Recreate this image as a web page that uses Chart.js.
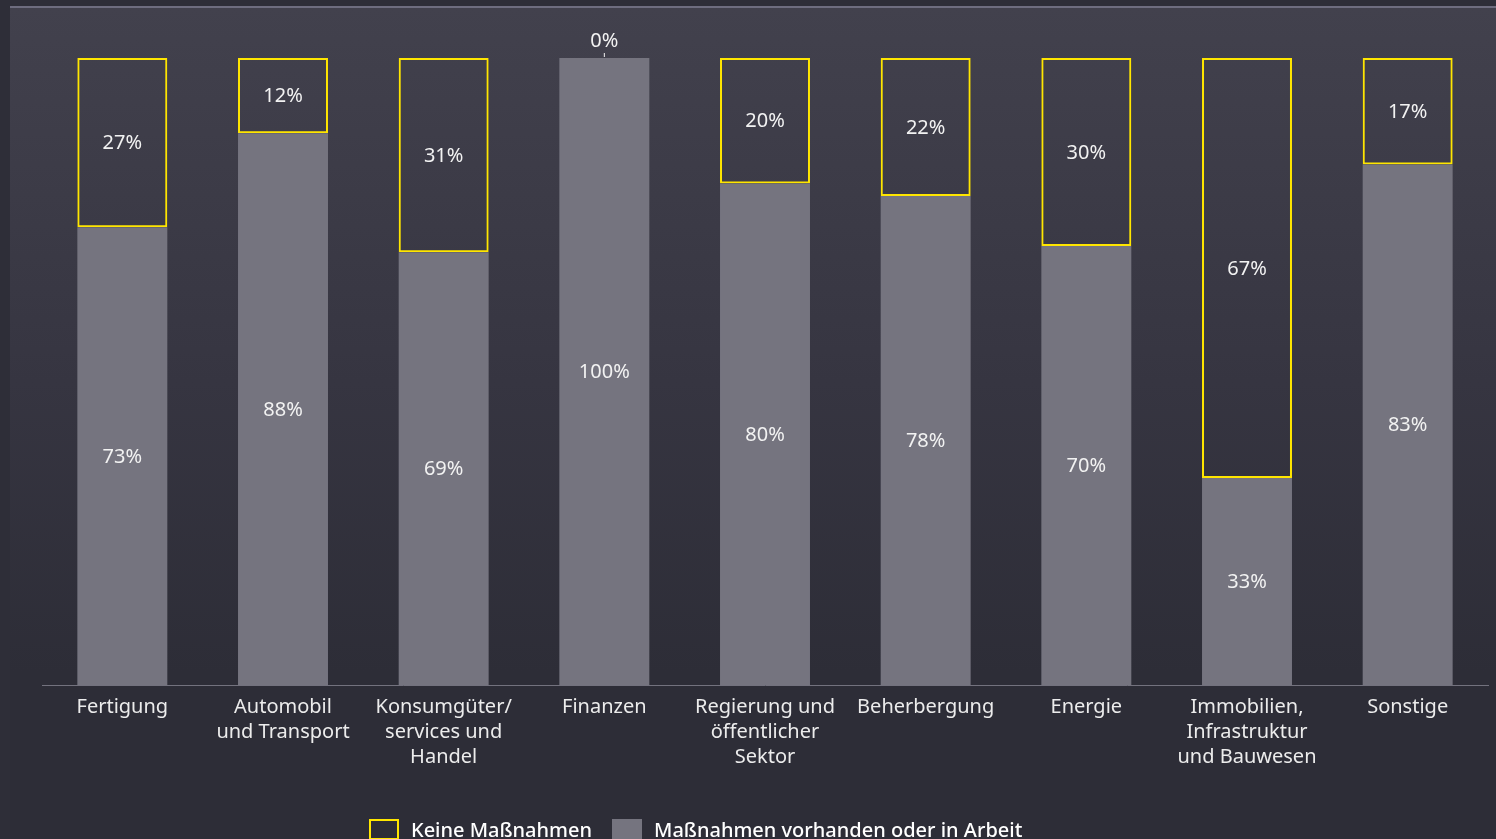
<!DOCTYPE html>
<html lang="de">
<head>
<meta charset="utf-8">
<title>Maßnahmen nach Branche</title>
<script src="https://cdn.jsdelivr.net/npm/chart.js@4/dist/chart.umd.min.js"></script>
<style>
  html, body { margin: 0; padding: 0; }
  body {
    width: 1496px; height: 839px; overflow: hidden;
    background: #2e2e38;
    font-family: "Noto Sans", sans-serif;
    position: relative;
  }
  #panel {
    position: absolute; left: 10px; top: 6px; right: 0; bottom: 0;
    border-top: 2px solid #6e6d7f;
    background: linear-gradient(#42414d 0%, #363541 45%, #2d2d37 80%, #2d2d37 100%);
  }
  #chart { position: absolute; left: 0; top: 0; }
  #legend {
    position: absolute; left: 369px; top: 816px;
    display: flex; align-items: center;
    color: #ffffff; font-size: 20px; font-weight: 500;
  }
  .item { display: flex; align-items: center; margin-right: 20px; }
  .box { width: 30px; height: 21px; margin-right: 12px; box-sizing: border-box; }
</style>
</head>
<body>
<div id="panel"></div>
<canvas id="chart" width="1496" height="839"></canvas>
<div id="legend"></div>
<script>
// Branchen (x-Achse, mehrzeilig)
const branchen = [
  ["Fertigung"],
  ["Automobil", "und Transport"],
  ["Konsumgüter/", "services und", "Handel"],
  ["Finanzen"],
  ["Regierung und", "öffentlicher", "Sektor"],
  ["Beherbergung"],
  ["Energie"],
  ["Immobilien,", "Infrastruktur", "und Bauwesen"],
  ["Sonstige"]
];
// Anteile in %
const vorhanden = [73, 88, 69, 100, 80, 78, 70, 33, 83];
const keine = [27, 12, 31, 0, 20, 22, 30, 67, 17];

const GELB = "#ffe600";
const GRAU = "#75747f";

// Prozentwerte mittig in die Segmente schreiben, 0 % oberhalb
const werteLabels = {
  id: "werteLabels",
  afterDatasetsDraw(chart) {
    const ctx = chart.ctx;
    ctx.save();
    ctx.font = "20px 'Noto Sans', sans-serif";
    ctx.fillStyle = "#f2f2f2";
    ctx.textAlign = "center";
    ctx.textBaseline = "middle";
    chart.data.datasets.forEach((ds, di) => {
      const meta = chart.getDatasetMeta(di);
      meta.data.forEach((bar, i) => {
        const v = ds.data[i];
        if (v === 0) {
          ctx.strokeStyle = "#f2f2f2";
          ctx.lineWidth = 1;
          ctx.beginPath();
          ctx.moveTo(bar.x, bar.y - 1);
          ctx.lineTo(bar.x, bar.y - 5);
          ctx.stroke();
          ctx.fillText(v + "%", bar.x, bar.y - 17);
        } else {
          ctx.fillText(v + "%", bar.x, (bar.y + bar.base) / 2 + 1);
        }
      });
    });
    ctx.restore();
  }
};

const chart = new Chart(document.getElementById("chart"), {
  type: "bar",
  data: {
    labels: branchen,
    datasets: [
      {
        label: "Maßnahmen vorhanden oder in Arbeit",
        data: vorhanden,
        backgroundColor: GRAU,
        borderWidth: 0
      },
      {
        label: "Keine Maßnahmen",
        data: keine,
        backgroundColor: "rgba(0,0,0,0)",
        borderColor: GELB,
        borderWidth: (c) => (c.raw === 0 ? 0 : 2),
        borderSkipped: false
      }
    ]
  },
  options: {
    responsive: false,
    animation: false,
    layout: { padding: { left: 42, right: 8, top: 58, bottom: 0 } },
    datasets: { bar: { barPercentage: 0.56, categoryPercentage: 1 } },
    plugins: { legend: { display: false }, tooltip: { enabled: false } },
    scales: {
      x: {
        stacked: true,
        grid: { display: false },
        border: { color: "#73727e", width: 1 },
        ticks: {
          color: "#ececec",
          font: { family: "'Noto Sans', sans-serif", size: 20, lineHeight: 1.25 },
          padding: 2,
          maxRotation: 0,
          autoSkip: false
        },
        afterFit(scale) { scale.height = 154; }
      },
      y: {
        stacked: true,
        display: false,
        min: 0,
        max: 100
      }
    }
  },
  plugins: [werteLabels]
});

// Legende: gelber Rahmen zuerst, dann graue Fläche
const legend = document.getElementById("legend");
[1, 0].forEach((di) => {
  const ds = chart.data.datasets[di];
  const item = document.createElement("div");
  item.className = "item";
  const box = document.createElement("span");
  box.className = "box";
  if (di === 1) {
    box.style.border = "2px solid " + GELB;
  } else {
    box.style.background = GRAU;
  }
  const txt = document.createElement("span");
  txt.textContent = ds.label;
  item.appendChild(box);
  item.appendChild(txt);
  legend.appendChild(item);
});
</script>
</body>
</html>
